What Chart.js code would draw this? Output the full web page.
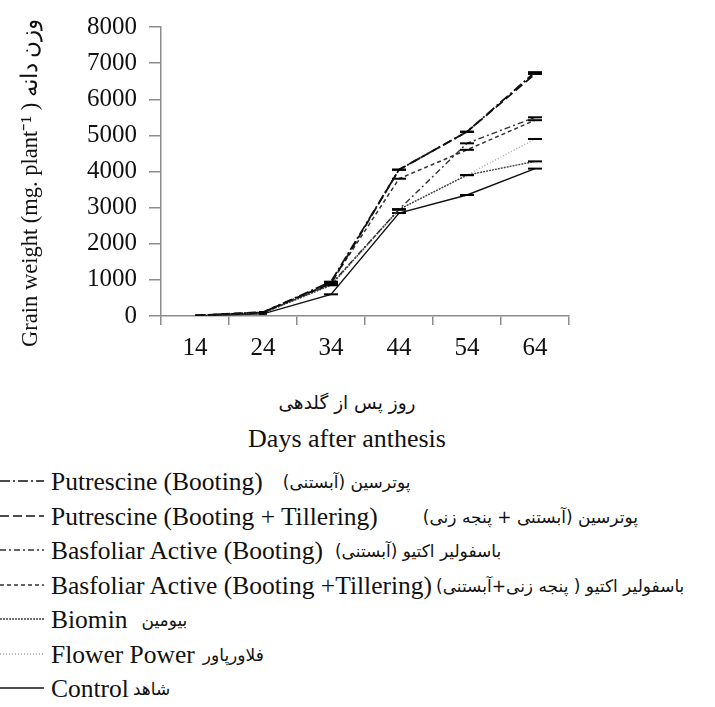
<!DOCTYPE html>
<html>
<head>
<meta charset="utf-8">
<script src="https://cdn.jsdelivr.net/npm/chart.js@4.4.1/dist/chart.umd.min.js"></script>
<style>
  html, body { margin: 0; padding: 0; background: #fff; }
  #wrap { position: relative; width: 715px; height: 707px; overflow: hidden; font-family: "Liberation Serif", "DejaVu Sans", serif; color: #111; }
  #chartBox { position: absolute; left: 0; top: 0; width: 715px; height: 370px; }
  .xt { position: absolute; left: 147px; width: 400px; text-align: center; white-space: nowrap; }
  .fa { font-family: "DejaVu Sans", sans-serif; font-size: 17px; direction: rtl; unicode-bidi: isolate; }
  #legend { position: absolute; left: 0; top: 465px; }
  .row { display: flex; align-items: center; height: 34.5px; white-space: nowrap; font-size: 25.5px; }
  .row svg { flex: none; margin-right: 7px; }
</style>
</head>
<body>
<div id="wrap">
  <div id="chartBox"><canvas id="c"></canvas></div>
  <div class="xt fa" style="top:392px; font-size:18.5px;">روز پس از گلدهی</div>
  <div class="xt" style="top:424px; font-size:26px;">Days after anthesis</div>
  <div id="legend"></div>
</div>
<script>
// ---- data ----
const days = ['14', '24', '34', '44', '54', '64'];
const putrescineBooting = [15, 100, 950, 4050, 5100, 6750];
const putrescineBootingTillering = [15, 110, 900, 4050, 5100, 6700];
const basfoliarBooting = [10, 90, 880, 2950, 4780, 5500];
const basfoliarBootingTillering = [10, 100, 920, 3800, 4600, 5420];
const biomin = [10, 80, 850, 2950, 3900, 4280];
const flowerPower = [10, 90, 870, 2950, 3900, 4900];
const control = [5, 60, 600, 2850, 3350, 4080];
const yTicks = [0, 1000, 2000, 3000, 4000, 5000, 6000, 7000, 8000];

const seriesNames = [
  'Putrescine (Booting)',
  'Putrescine (Booting + Tillering)',
  'Basfoliar Active (Booting)',
  'Basfoliar Active (Booting +Tillering)',
  'Biomin',
  'Flower Power',
  'Control'
];
const seriesNamesFa = [
  'پوترسین (آبستنی)',
  'پوترسین (آبستنی + پنجه زنی)',
  'باسفولیر اکتیو (آبستنی)',
  'باسفولیر اکتیو ( پنجه زنی+آبستنی)',
  'بیومین',
  'فلاورپاور',
  'شاهد'
];
const seriesValues = [putrescineBooting, putrescineBootingTillering, basfoliarBooting,
  basfoliarBootingTillering, biomin, flowerPower, control];

// ---- styles ----
const styles = [
  { color: '#111', dash: [10, 3, 2, 3], width: 1.8 },
  { color: '#111', dash: [9, 4], width: 1.8 },
  { color: '#333', dash: [6, 3, 2, 3], width: 1.4 },
  { color: '#333', dash: [4, 3], width: 1.5 },
  { color: '#444', dash: [2, 1], width: 1.4 },
  { color: '#aaa', dash: [1, 2], width: 1.4 },
  { color: '#111', dash: [], width: 1.4 }
];
const gapAfter = [20, 45, 12, 4, 14, 8, 4];

const datasets = seriesValues.map((vals, i) => ({
  label: seriesNames[i],
  data: vals,
  borderColor: styles[i].color,
  borderDash: styles[i].dash,
  borderWidth: styles[i].width,
  fill: false,
  tension: 0,
  pointStyle: 'line',
  pointRadius: ctx => ctx.dataIndex === 0 ? 0 : (ctx.dataIndex === 1 ? 4 : 7),
  pointBorderColor: '#000',
  pointBorderWidth: 2
}));

const axisGray = '#8c8c8c';
new Chart(document.getElementById('c'), {
  type: 'line',
  data: { labels: days, datasets },
  options: {
    responsive: true,
    maintainAspectRatio: false,
    animation: false,
    events: [],
    layout: { padding: { top: 16, right: 146, bottom: 0, left: 0 } },
    plugins: { legend: { display: false }, tooltip: { enabled: false } },
    scales: {
      x: {
        type: 'category',
        offset: true,
        grid: { offset: true, drawOnChartArea: false, drawTicks: true, tickLength: 9, color: axisGray, lineWidth: 1.5 },
        border: { display: true, color: axisGray, width: 1.5 },
        ticks: { font: { family: 'Liberation Serif', size: 25 }, color: '#111', padding: 8, maxRotation: 0 },
        afterFit: s => { s.height = 54; }
      },
      y: {
        min: 0, max: 8000,
        afterBuildTicks: s => { s.ticks = yTicks.map(v => ({ value: v })); },
        grid: { drawOnChartArea: false, drawTicks: true, tickLength: 12, color: axisGray, lineWidth: 1.5 },
        border: { display: true, color: axisGray, width: 1.5 },
        ticks: { font: { family: 'Liberation Serif', size: 25 }, color: '#111', padding: 12, callback: v => String(v) },
        title: {
          display: true,
          text: 'Grain weight (mg. plant⁻¹ ) وزن دانه    ',
          font: { family: 'Liberation Serif', size: 22.5 },
          color: '#111',
          padding: { top: 18, bottom: 0 }
        },
        afterFit: s => { s.width = 161; }
      }
    }
  }
});

// ---- legend (HTML) ----
const legend = document.getElementById('legend');
seriesNames.forEach((name, i) => {
  const row = document.createElement('div');
  row.className = 'row';
  const st = styles[i];
  row.innerHTML =
    `<svg width="44" height="10"><line x1="0" y1="4" x2="44" y2="4" stroke="${st.color}" stroke-width="1.3" stroke-dasharray="${st.dash.join(' ')}"/></svg>` +
    `<span>${name}</span>` +
    `<span class="fa" style="margin-left:${gapAfter[i]}px">${seriesNamesFa[i]}</span>`;
  legend.appendChild(row);
});
</script>
</body>
</html>
